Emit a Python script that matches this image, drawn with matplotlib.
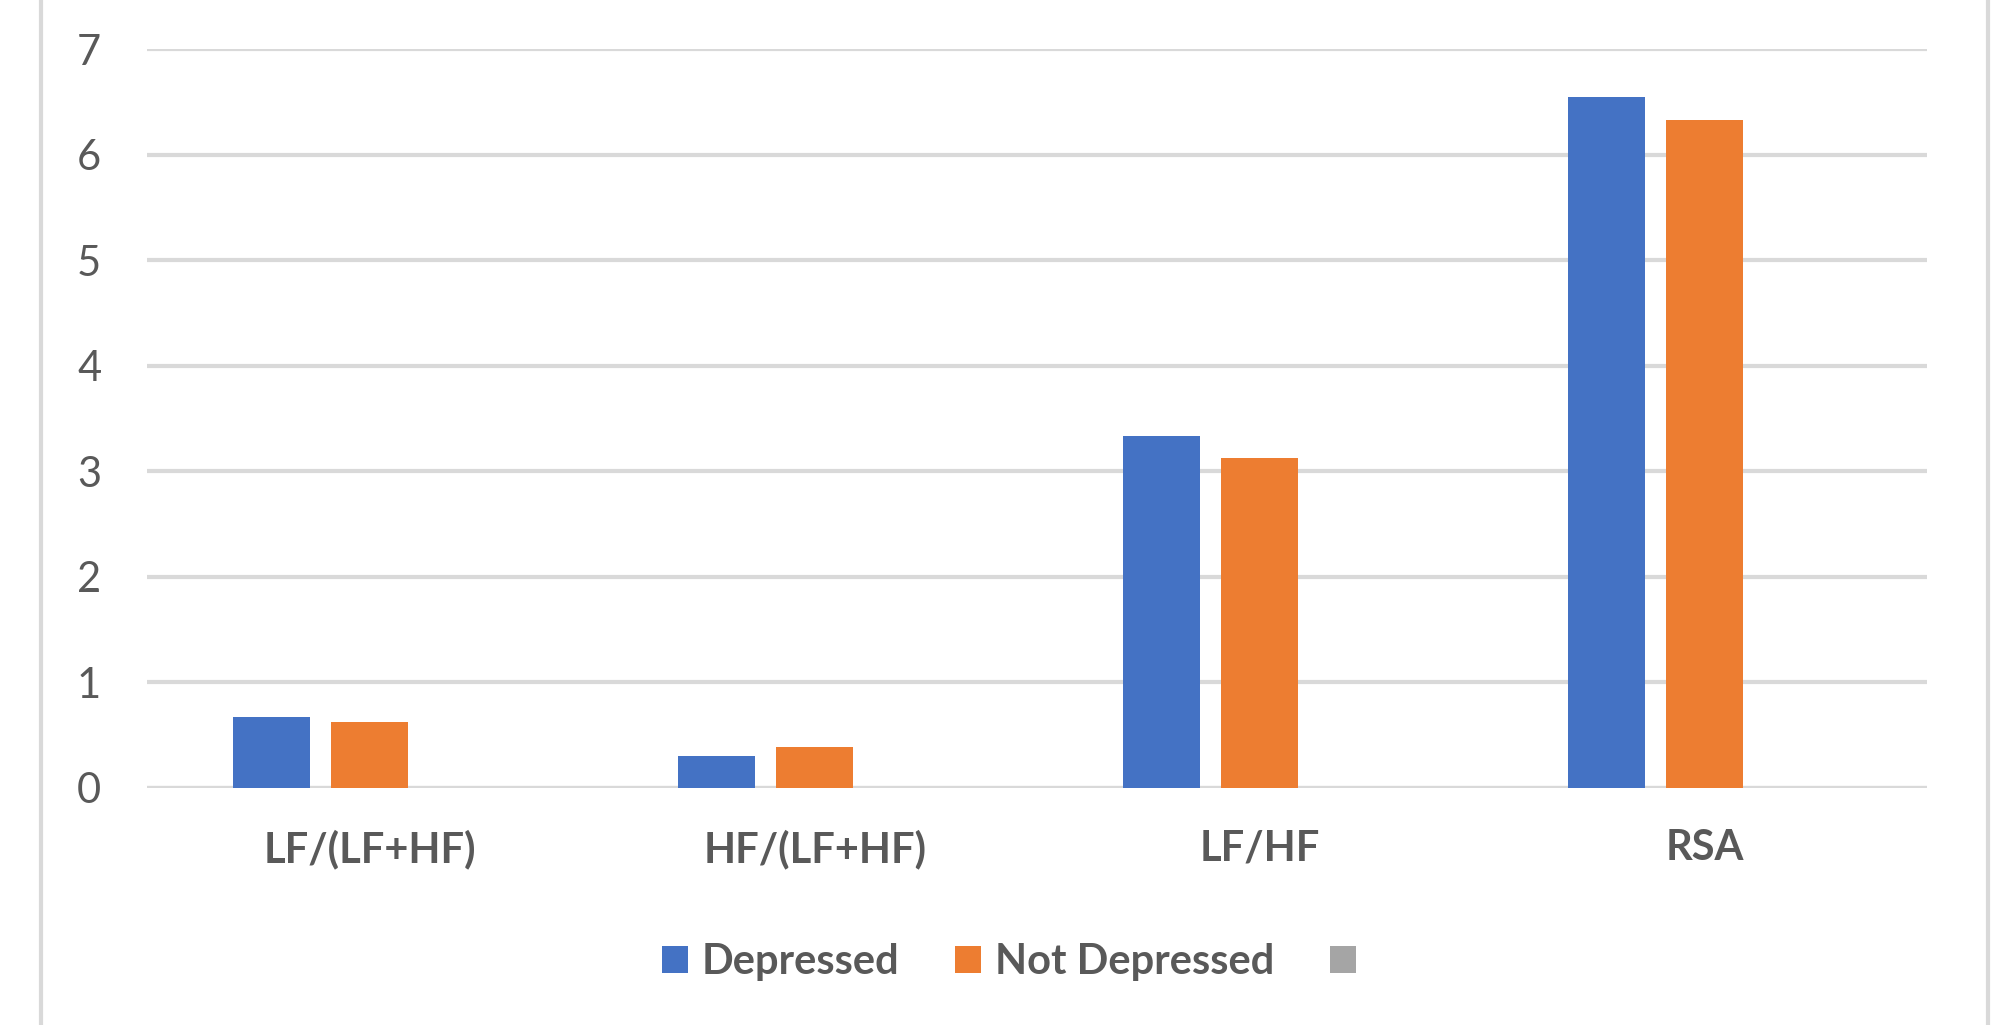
import matplotlib.pyplot as plt
import numpy as np
from matplotlib.lines import Line2D
from matplotlib.patches import Patch

categories = ["LF/(LF+HF)", "HF/(LF+HF)", "LF/HF", "RSA"]
depressed = [0.67, 0.30, 3.33, 6.55]
not_depressed = [0.62, 0.38, 3.12, 6.33]
blank = [0, 0, 0, 0]
series_names = ["Depressed", "Not Depressed", ""]
y_ticks = [0, 1, 2, 3, 4, 5, 6, 7]

BLUE = "#4472c4"
ORANGE = "#ed7d31"
GRAY = "#a5a5a5"
GRID = "#d9d9d9"
TEXT = "#595959"


def main():
    plt.rcParams['font.family'] = ['Lato', 'DejaVu Sans']
    fig = plt.figure(figsize=(19.98, 10.25), dpi=100)
    ax = fig.add_axes([0.0736, 0.2317, 0.891, 0.7203])

    x = np.arange(len(categories))
    step = 0.22
    width = 0.173
    for i, (vals, col) in enumerate(zip([depressed, not_depressed, blank],
                                        [BLUE, ORANGE, GRAY])):
        ax.bar(x + (i - 1) * step, vals, width=width, color=col, zorder=3)

    ax.set_xlim(-0.5, len(categories) - 0.5)
    ax.set_ylim(0, 7)
    ax.set_yticks(y_ticks)
    ax.yaxis.grid(True, color=GRID, linewidth=3, zorder=0)
    ax.set_axisbelow(True)
    for s in ax.spines.values():
        s.set_visible(False)
    ax.axhline(0, color=GRID, linewidth=3, zorder=1)

    ax.set_xticks(x)
    ax.set_xticklabels(categories, fontweight="bold")
    ax.tick_params(axis="x", length=0, pad=30, labelsize=30, labelcolor=TEXT)
    ax.tick_params(axis="y", length=0, pad=33, labelsize=30, labelcolor=TEXT)

    # chart frame edges (cropped)
    fig.add_artist(Line2D([41 / 1998, 41 / 1998], [0, 1], color=GRID,
                          linewidth=3, transform=fig.transFigure))
    fig.add_artist(Line2D([1988 / 1998, 1988 / 1998], [0, 1], color=GRID,
                          linewidth=3, transform=fig.transFigure))

    handles = [Patch(facecolor=c) for c in [BLUE, ORANGE, GRAY]]
    leg = fig.legend(handles, series_names, loc="center", ncol=3,
                     bbox_to_anchor=(0.5085, 0.0615), frameon=False,
                     prop={"weight": "bold", "size": 30},
                     handlelength=0.62, handleheight=0.62,
                     handletextpad=0.33, columnspacing=1.35)
    for t in leg.get_texts():
        t.set_color(TEXT)

    fig.savefig("out.png", dpi=100)


if __name__ == "__main__":
    main()
